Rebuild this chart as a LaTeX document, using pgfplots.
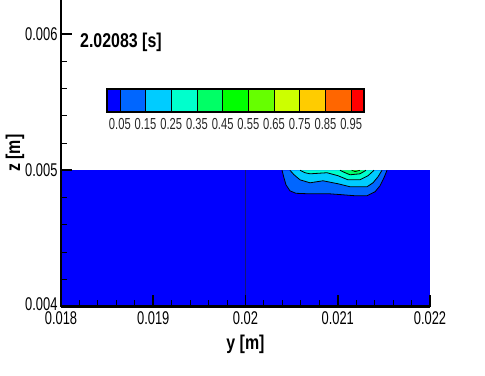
\documentclass[border=0pt]{standalone}
\usepackage{fontspec}
\setmainfont{Liberation Sans}[FakeStretch=0.7, BoldFeatures={FakeStretch=0.8}]
\usepackage{pgfplots}
\pgfplotsset{compat=1.18}
\definecolor{c0}{HTML}{0000FF}
\definecolor{c1}{HTML}{0066FF}
\definecolor{c2}{HTML}{00CCFF}
\definecolor{c3}{HTML}{00FFCC}
\definecolor{c4}{HTML}{00FF66}
\definecolor{c5}{HTML}{00FF00}
\definecolor{c6}{HTML}{66FF00}
\definecolor{c7}{HTML}{CCFF00}
\definecolor{c8}{HTML}{FFCC00}
\definecolor{c9}{HTML}{FF6600}
\definecolor{c10}{HTML}{FF0000}
\definecolor{gridline}{RGB}{20,20,120}
\begin{document}
\begin{tikzpicture}
\path[use as bounding box] (-61bp,-69.5bp) rectangle (424bp,306.5bp);
\begin{axis}[
  at={(0,0)}, anchor=south west,
  scale only axis, width=369bp, height=306.5bp,
  xmin=0.018, xmax=0.022, ymin=0.004, ymax=0.00625,
  scaled ticks=false,
  axis lines=left, axis line style={-, line width=2.5bp},
  xtick={0.018,0.019,0.02,0.021,0.022},
  xticklabels={0.018,0.019,0.02,0.021,0.022},
  ytick={0.004,0.005,0.006},
  yticklabels={\raisebox{5bp}{0.004},0.005,0.006},
  minor x tick num=4, minor y tick num=4,
  tick align=inside,
  major tick length=11bp, minor tick length=6bp,
  every major tick/.style={black, line width=1.8bp},
  every minor tick/.style={black, line width=1bp},
  ticklabel style={font=\fontsize{18.5}{18.5}\selectfont},
  xticklabel style={yshift=-1.5bp},
  xlabel={\textbf{y [m]}}, ylabel={\textbf{z [m]}},
  label style={font=\fontsize{20}{20}\selectfont},
  xlabel style={at={(axis description cs:0.5,-0.1223)}, anchor=center},
  ylabel style={at={(axis description cs:-0.1247,0.5)}, anchor=center},
  axis on top,
]
% domain
\addplot[fill=c0, draw=none] coordinates {(0.018,0.004)(0.022,0.004)(0.022,0.005)(0.018,0.005)} -- cycle;
% level 0.15
\addplot[fill=c1, draw=none] coordinates {(0.020396,0.005)(0.020417,0.004945)(0.020439,0.004893)(0.020482,0.004849)(0.020547,0.004831)(0.020699,0.004827)(0.020916,0.004827)(0.021057,0.004820)(0.021187,0.004813)(0.021317,0.004813)(0.021404,0.004842)(0.021458,0.004886)(0.021501,0.004945)(0.021534,0.005)} -- cycle;
\addplot[black, line width=0.8bp] coordinates {(0.020396,0.005)(0.020417,0.004945)(0.020439,0.004893)(0.020482,0.004849)(0.020547,0.004831)(0.020699,0.004827)(0.020916,0.004827)(0.021057,0.004820)(0.021187,0.004813)(0.021317,0.004813)(0.021404,0.004842)(0.021458,0.004886)(0.021501,0.004945)(0.021534,0.005)};
% level 0.25
\addplot[fill=c2, draw=none] coordinates {(0.020482,0.005)(0.020526,0.004967)(0.020591,0.004930)(0.020699,0.004908)(0.020840,0.004923)(0.021003,0.004901)(0.021133,0.004879)(0.021317,0.004879)(0.021382,0.004908)(0.021436,0.004952)(0.021480,0.005)} -- cycle;
\addplot[black, line width=0.8bp] coordinates {(0.020482,0.005)(0.020526,0.004967)(0.020591,0.004930)(0.020699,0.004908)(0.020840,0.004923)(0.021003,0.004901)(0.021133,0.004879)(0.021317,0.004879)(0.021382,0.004908)(0.021436,0.004952)(0.021480,0.005)};
% level 0.35
\addplot[fill=c3, draw=none] coordinates {(0.020591,0.005)(0.020645,0.004982)(0.020699,0.004974)(0.020883,0.004982)(0.021003,0.004960)(0.021111,0.004930)(0.021241,0.004930)(0.021328,0.004960)(0.021393,0.005)} -- cycle;
\addplot[black, line width=0.8bp] coordinates {(0.020591,0.005)(0.020645,0.004982)(0.020699,0.004974)(0.020883,0.004982)(0.021003,0.004960)(0.021111,0.004930)(0.021241,0.004930)(0.021328,0.004960)(0.021393,0.005)};
% level 0.45
\addplot[fill=c4, draw=none] coordinates {(0.021024,0.005)(0.021080,0.004982)(0.021133,0.004967)(0.021241,0.004974)(0.021306,0.005)} -- cycle;
\addplot[black, line width=0.8bp] coordinates {(0.021024,0.005)(0.021080,0.004982)(0.021133,0.004967)(0.021241,0.004974)(0.021306,0.005)};
% level 0.55
\addplot[fill=c5, draw=none] coordinates {(0.021150,0.005)(0.021190,0.004990)(0.021240,0.005)} -- cycle;
\addplot[black, line width=0.6bp] coordinates {(0.021150,0.005)(0.021190,0.004990)(0.021240,0.005)};
% block boundary line
\addplot[gridline, line width=0.8bp] coordinates {(0.02,0.004)(0.02,0.005)};
\end{axis}
\node[anchor=west, inner sep=0, font=\bfseries\fontsize{20}{20}\selectfont] at (19bp,264.5bp) {2.02083 [s]};
\begin{axis}[
  at={(46bp,194.5bp)}, anchor=south west,
  scale only axis, width=257bp, height=23bp,
  xmin=0, xmax=1, ymin=0, ymax=1,
  axis line style={line width=1.2bp},
  ytick=\empty,
  xtick={0.05,0.15,0.25,0.35,0.45,0.55,0.65,0.75,0.85,0.95},
  xticklabels={0.05,0.15,0.25,0.35,0.45,0.55,0.65,0.75,0.85,0.95},
  major tick length=0pt,
  ticklabel style={font=\fontsize{16}{16}\selectfont, text=black!85},
  xticklabel style={yshift=-3bp},
  axis on top,
]
\addplot[fill=c0, draw=black, line width=0.6bp] coordinates {(0,0)(0.05,0)(0.05,1)(0,1)} -- cycle;
\addplot[fill=c1, draw=black, line width=0.6bp] coordinates {(0.05,0)(0.15,0)(0.15,1)(0.05,1)} -- cycle;
\addplot[fill=c2, draw=black, line width=0.6bp] coordinates {(0.15,0)(0.25,0)(0.25,1)(0.15,1)} -- cycle;
\addplot[fill=c3, draw=black, line width=0.6bp] coordinates {(0.25,0)(0.35,0)(0.35,1)(0.25,1)} -- cycle;
\addplot[fill=c4, draw=black, line width=0.6bp] coordinates {(0.35,0)(0.45,0)(0.45,1)(0.35,1)} -- cycle;
\addplot[fill=c5, draw=black, line width=0.6bp] coordinates {(0.45,0)(0.55,0)(0.55,1)(0.45,1)} -- cycle;
\addplot[fill=c6, draw=black, line width=0.6bp] coordinates {(0.55,0)(0.65,0)(0.65,1)(0.55,1)} -- cycle;
\addplot[fill=c7, draw=black, line width=0.6bp] coordinates {(0.65,0)(0.75,0)(0.75,1)(0.65,1)} -- cycle;
\addplot[fill=c8, draw=black, line width=0.6bp] coordinates {(0.75,0)(0.85,0)(0.85,1)(0.75,1)} -- cycle;
\addplot[fill=c9, draw=black, line width=0.6bp] coordinates {(0.85,0)(0.95,0)(0.95,1)(0.85,1)} -- cycle;
\addplot[fill=c10, draw=black, line width=0.6bp] coordinates {(0.95,0)(1,0)(1,1)(0.95,1)} -- cycle;
\end{axis}
\end{tikzpicture}
\end{document}
